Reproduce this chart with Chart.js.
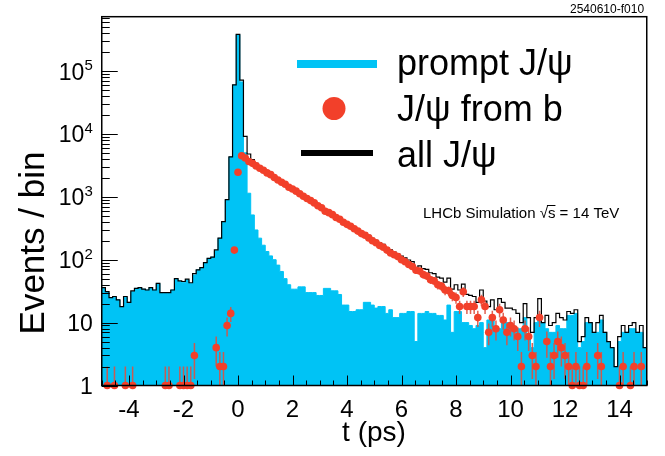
<!DOCTYPE html>
<html><head><meta charset="utf-8">
<script src="https://cdn.jsdelivr.net/npm/chart.js@4/dist/chart.umd.min.js"></script>
<style>html,body{margin:0;padding:0;background:#fff;}canvas{display:block}</style>
</head><body>
<canvas id="c" width="665" height="456"></canvas>
<script>
// ---- data (150 bins, t from -5 to 15 ps) ----
const tRange = [-5, 15];
const nBins = 150;
const promptJpsi = [
 36,30,25,25,23,18,25,21,31,35,
 36,34,33,36,33,42,30,29,29,33,
 50,45,44,48,42,57,69,75,90,105,
 110,139,219,400,890,4300,60000,380000,67000,5000,
 1140,515,297,220,170,135,115,100,82,65,
 50,40,34,34,37,37,30,30,30,27,
 27,35,35,32,32,28,19,19,15,15,
 16,16,21,21,19,17,18,18,14,16,
 12,12,14,14,15,15,5,14,14,15,
 14,14,13,13,11,19,7,15,15,10,
 10,9,8,9,10,4,11,11,8,8,
 10,10,8,8,8,8,12,6,4,10,
 12,10,8,7,7,9,8,8,13,13,
 14,4,5,10,10,7,7,11,7,5,
 4,2,5,7,7,8,8,7,7,4
];
const fromB = [
 null,1,null,1,null,null,1,null,1,null,
 null,null,null,null,null,null,null,1,1,null,
 null,1,1,1,1,3,null,null,null,null,
 null,4,2,2,9,14,142,2450,4500,4150,
 3650,3400,3100,2850,2650,2400,2250,2030,1850,1700,
 1580,1420,1330,1230,1120,1020,940,870,800,720,
 670,590,560,520,470,440,395,365,340,310,
 285,260,245,222,200,186,168,158,142,128,
 120,112,100,93,84,78,68,66,58,55,
 48,46,40,38,33,32,27,25,18,31,
 18,18,18,12,23,18,7,12,8,16,
 11,7,9,8,6,2,8,6,3,2,
 12,null,5,2,3,5,4,3,2,1,
 2,1,1,2,null,null,3,2,null,null,
 null,null,1,2,null,1,2,null,2,null
];
const allJpsi = [
 36,31,25,26,23,18,26,21,32,35,
 36,34,33,36,33,42,30,30,30,33,
 50,46,45,49,43,60,69,75,90,105,
 110,143,221,402,899,4314,60142,382450,71500,9150,
 4790,3915,3397,3070,2820,2535,2365,2130,1932,1765,
 1630,1460,1364,1264,1157,1057,970,900,830,747,
 697,625,595,552,502,468,414,384,355,325,
 301,276,266,243,219,203,186,176,156,144,
 132,124,114,107,99,93,73,80,72,70,
 62,60,53,51,44,51,34,40,33,41,
 28,27,26,21,33,22,18,23,16,24,
 21,17,17,16,14,10,20,12,7,12,
 24,10,13,9,10,14,12,11,15,14,
 16,5,6,12,10,7,10,13,7,5,
 4,2,6,9,7,9,10,7,9,4
];
const xTickLabels = [-4,-2,0,2,4,6,8,10,12,14];
const yTickExponents = [0,1,2,3,4,5];
const legendLabels = ['prompt J/\u03c8', 'J/\u03c8 from b', 'all J/\u03c8'];
const xTitle = 't (ps)';
const yTitle = 'Events / bin';
const annotation = 'LHCb Simulation';
const figId = '2540610-f010';

// ---- build datasets ----
const binW = (tRange[1] - tRange[0]) / nBins;
const edges = [];
for (let i = 0; i <= nBins; i++) edges.push(tRange[0] + i * binW);
function stepData(vals) {
  const d = vals.map((v, i) => ({x: edges[i], y: v}));
  d.push({x: edges[nBins], y: vals[nBins - 1]});
  return d;
}
const bPoints = [];
fromB.forEach((v, i) => { if (v !== null) bPoints.push({x: (edges[i] + edges[i + 1]) / 2, y: v}); });

const CYAN = '#00c3f5';
const RED = '#f2402a';
const FONT = '"Liberation Sans", Arial, Helvetica, sans-serif';

const rootStyle = {
  id: 'rootStyle',
  beforeDatasetDraw(chart, args) {
    if (args.index !== 2) return;
    const {ctx, chartArea: ca, scales: {y}} = chart;
    ctx.save();
    ctx.beginPath(); ctx.rect(ca.left, ca.top, ca.width, ca.height); ctx.clip();
    ctx.strokeStyle = 'rgba(222,80,64,0.9)';
    ctx.lineWidth = 1.5;
    const meta = chart.getDatasetMeta(2);
    meta.data.forEach((pt, i) => {
      const v = bPoints[i].y;
      const e = Math.sqrt(v);
      const lo = v - e > y.min ? y.getPixelForValue(v - e) : ca.bottom;
      const hi = y.getPixelForValue(v + e);
      ctx.beginPath(); ctx.moveTo(pt.x, lo); ctx.lineTo(pt.x, hi); ctx.stroke();
    });
    ctx.restore();
  },
  afterDatasetsDraw(chart) {
    const {ctx, chartArea: ca, scales: {x, y}} = chart;
    ctx.save();
    ctx.strokeStyle = '#000';
    ctx.lineWidth = 1;
    for (let t = tRange[0]; t <= tRange[1] + 1e-9; t += 0.5) {
      const px = Math.round(x.getPixelForValue(t)) + 0.5;
      const major = Math.abs(t / 2 - Math.round(t / 2)) < 1e-6;
      const len = major ? 10 : 5;
      ctx.beginPath(); ctx.moveTo(px, ca.bottom); ctx.lineTo(px, ca.bottom - len); ctx.stroke();
    }
    for (let e = 0; e <= 5; e++) {
      for (let m = 1; m <= 9; m++) {
        const v = m * Math.pow(10, e);
        if (v > y.max) break;
        const py = Math.round(y.getPixelForValue(v)) + 0.5;
        const len = m === 1 ? 16 : 8;
        ctx.beginPath(); ctx.moveTo(ca.left, py); ctx.lineTo(ca.left + len, py); ctx.stroke();
      }
    }
    ctx.lineWidth = 1.5;
    ctx.strokeRect(ca.left, ca.top, ca.width, ca.height);
    ctx.restore();
  },
  afterDraw(chart) {
    const {ctx, chartArea: ca, scales: {x, y}} = chart;
    ctx.save();
    ctx.fillStyle = '#000';
    ctx.font = '24px ' + FONT;
    ctx.textAlign = 'center'; ctx.textBaseline = 'alphabetic';
    xTickLabels.forEach(t => { ctx.fillText(String(t), x.getPixelForValue(t), ca.bottom + 31); });
    const right = ca.left - 9;
    yTickExponents.forEach(e => {
      const py = y.getPixelForValue(Math.pow(10, e));
      ctx.textAlign = 'right';
      if (e === 0 || e === 1) {
        ctx.font = '23px ' + FONT;
        ctx.fillText(e === 0 ? '1' : '10', right, py + 8.5);
      } else {
        ctx.font = '15px ' + FONT;
        const ew = ctx.measureText(String(e)).width;
        ctx.textAlign = 'left';
        ctx.fillText(String(e), right - ew, py - 1);
        ctx.font = '23px ' + FONT;
        ctx.textAlign = 'right';
        ctx.fillText('10', right - ew, py + 8.5);
      }
    });
    ctx.font = '28px ' + FONT;
    ctx.textAlign = 'center';
    ctx.fillText(xTitle, 374, 441);
    ctx.save();
    ctx.translate(44, 243);
    ctx.rotate(-Math.PI / 2);
    ctx.font = '35px ' + FONT;
    ctx.fillText(yTitle, 0, 0);
    ctx.restore();
    ctx.lineCap = 'butt';
    ctx.strokeStyle = CYAN; ctx.lineWidth = 8;
    ctx.beginPath(); ctx.moveTo(297, 64); ctx.lineTo(377, 64); ctx.stroke();
    ctx.fillStyle = RED;
    ctx.beginPath(); ctx.arc(334, 108.5, 11.5, 0, Math.PI * 2); ctx.fill();
    ctx.strokeStyle = '#000'; ctx.lineWidth = 6;
    ctx.beginPath(); ctx.moveTo(301, 153); ctx.lineTo(373, 153); ctx.stroke();
    ctx.fillStyle = '#000';
    ctx.font = '36px ' + FONT;
    ctx.textAlign = 'left';
    ctx.fillText(legendLabels[0], 397, 75);
    ctx.fillText(legendLabels[1], 397, 121);
    ctx.fillText(legendLabels[2], 397, 167);
    ctx.font = '15px ' + FONT;
    let ax = 423;
    const ab = 218;
    ctx.fillText(annotation + ' ', ax, ab);
    ax += ctx.measureText(annotation + ' ').width;
    ctx.fillText('\u221a', ax, ab);
    ax += ctx.measureText('\u221a').width;
    const sw = ctx.measureText('s').width;
    ctx.fillText('s', ax, ab);
    ctx.lineWidth = 1;
    ctx.beginPath(); ctx.moveTo(ax - 1, ab - 12.5); ctx.lineTo(ax + sw, ab - 12.5); ctx.stroke();
    ax += sw;
    ctx.fillText(' = 14 TeV', ax, ab);
    ctx.font = '12px ' + FONT;
    ctx.fillText(figId, 570, 13);
    ctx.restore();
  }
};

new Chart(document.getElementById('c'), {
  type: 'line',
  data: {
    datasets: [
      {label: 'prompt J/\u03c8', data: stepData(promptJpsi), stepped: true, fill: 'start',
       backgroundColor: CYAN, borderColor: CYAN, borderWidth: 1, pointRadius: 0, order: 3},
      {label: 'all J/\u03c8', data: stepData(allJpsi), stepped: true, fill: false,
       borderColor: '#000', borderWidth: 1.2, pointRadius: 0, order: 2},
      {label: 'J/\u03c8 from b', data: bPoints, showLine: false, pointRadius: 3.8,
       pointBackgroundColor: RED, pointBorderWidth: 0, pointBorderColor: RED, order: 1, clip: false}
    ]
  },
  options: {
    responsive: false, animation: false, events: [],
    layout: {padding: {left: 101.75, right: 18.25, top: 16.7, bottom: 70.5}},
    plugins: {legend: {display: false}, tooltip: {enabled: false}},
    scales: {
      x: {type: 'linear', min: tRange[0], max: tRange[1], display: false},
      y: {type: 'logarithmic', min: 1, max: 7.3e5, display: false}
    }
  },
  plugins: [rootStyle]
});
</script>
</body></html>
